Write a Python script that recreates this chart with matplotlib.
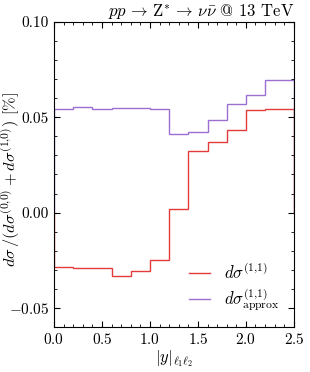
import numpy as np
import matplotlib
matplotlib.use('Agg')
import matplotlib.pyplot as plt

plt.rcParams['font.family'] = 'serif'
plt.rcParams['font.serif'] = ['cmr10']
plt.rcParams['mathtext.fontset'] = 'cm'
plt.rcParams['axes.formatter.use_mathtext'] = True

# bin edges in |y|_{l1 l2}
bordas = [0.0, 0.2, 0.4, 0.6, 0.8, 1.0, 1.2, 1.4, 1.6, 1.8, 2.0, 2.2, 2.5]

# d sigma^(1,1) relative correction [%]
sigma_11 = [-0.0287, -0.0291, -0.0293, -0.0331, -0.0305, -0.0251,
            0.0019, 0.0323, 0.0372, 0.0434, 0.0538, 0.0544]

# approximated d sigma^(1,1)
sigma_11_approx = [0.0542, 0.0553, 0.0546, 0.0551, 0.0549, 0.0542,
                   0.0414, 0.0423, 0.0488, 0.0572, 0.0619, 0.0695]

cor_vermelho = '#e33b3b'
cor_roxo = '#9b6fd1'

fig = plt.figure(figsize=(3.1, 3.72), dpi=100)
ax = fig.add_axes([0.174, 0.121, 0.774, 0.820])

ax.stairs(sigma_11, bordas, color=cor_vermelho, lw=1.0, label=r'$d\sigma^{(1{,}1)}$')
ax.stairs(sigma_11_approx, bordas, color=cor_roxo, lw=1.0,
          label=r'$d\sigma^{(1{,}1)}_{\mathrm{approx}}$')

ax.set_xlim(0, 2.5)
ax.set_ylim(-0.06, 0.10)
ax.set_xticks([0.0, 0.5, 1.0, 1.5, 2.0, 2.5])
ax.set_yticks([-0.05, 0.0, 0.05, 0.10])
ax.set_xticks(np.arange(0, 2.51, 0.1), minor=True)
ax.set_yticks(np.arange(-0.06, 0.101, 0.01), minor=True)
ax.set_yticklabels([r'$-0.05$', '0.00', '0.05', '0.10'])
ax.tick_params(which='both', direction='in', top=True, right=True, labelsize=11)
ax.tick_params(which='major', length=4)
ax.tick_params(which='minor', length=2)

ax.set_xlabel(r'$|y|_{\ell_1\ell_2}$', fontsize=12, labelpad=1)
ax.set_ylabel(r'$d\sigma\,/(d\sigma^{(0{,}0)}+d\sigma^{(1{,}0)})$ [%]', fontsize=11.8)
ax.yaxis.set_label_coords(-0.135, 0.482)
ax.set_title(r'$pp \,\to\, \mathrm{Z}^{*} \,\to\, \nu\bar{\nu}$ @ 13 TeV', loc='right',
             fontsize=12, pad=2)

ax.legend(loc='lower right', frameon=False, fontsize=12, handlelength=1.3,
          labelspacing=0.25, bbox_to_anchor=(1.0, -0.003))

plt.savefig('out.png', dpi=100)
